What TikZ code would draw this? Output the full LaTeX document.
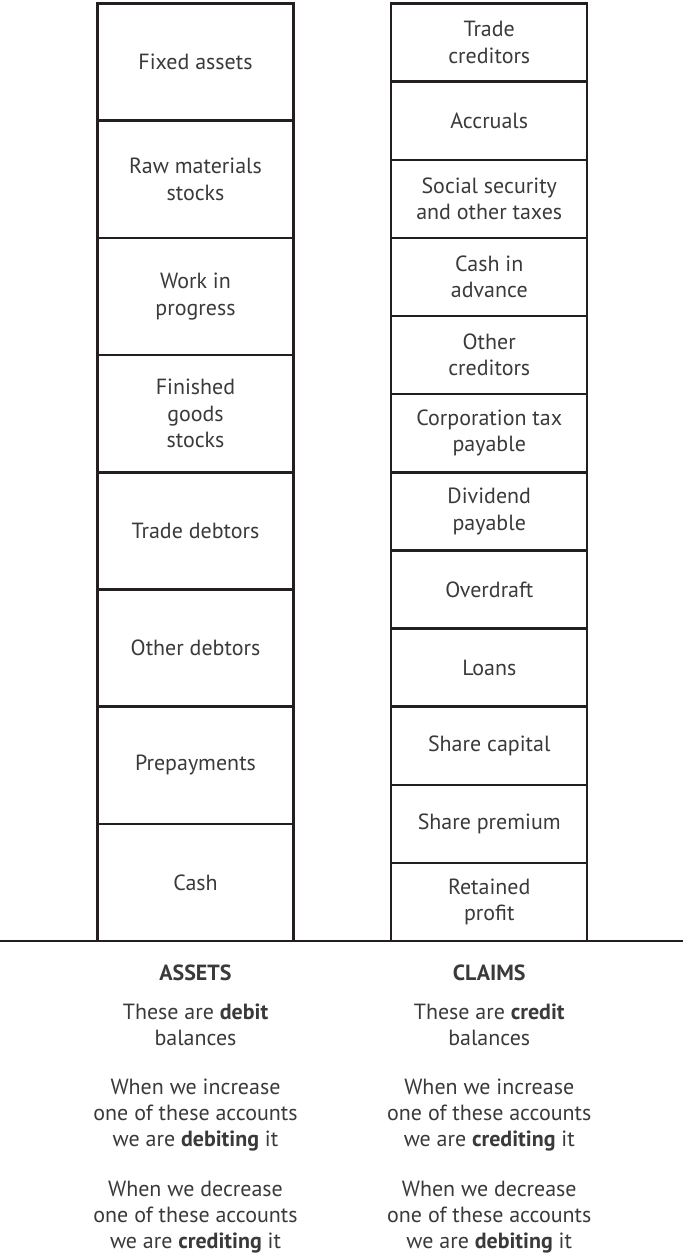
\documentclass[tikz,border=0pt]{standalone}
\usepackage{fontspec}
\setmainfont{PT Sans}
\definecolor{ink}{HTML}{231F20}
\definecolor{txt}{HTML}{3A3A3A}
\tikzset{
    acct/.style={draw=ink, line width=1.4pt, minimum width=3.92cm, inner sep=0pt, outer sep=0pt,
        align=center, text=txt, font=\fontsize{12.5}{15}\selectfont},
    asset/.style={acct, minimum height=2.344cm},
    claim/.style={acct, minimum height=1.5625cm},
    note/.style={align=center, text=txt, font=\fontsize{12.5}{15}\selectfont}
}

\begin{document}
\begin{tikzpicture}
        \useasboundingbox (0,0) rectangle (13.66,-25.1);
        \draw[ink, line width=0.7pt] (0,-18.822) coordinate (base west) -- (13.66,-18.822) coordinate (base east);
        % assets
        \node[asset] (fixed) at (3.91,-1.242) {Fixed assets};
        \node[asset] (raw) at (3.91,-3.586) {Raw materials\\stocks};
        \node[asset] (wip) at (3.91,-5.930) {Work in\\progress};
        \node[asset] (finished) at (3.91,-8.274) {Finished\\goods\\stocks};
        \node[asset] (tdebtors) at (3.91,-10.618) {Trade debtors};
        \node[asset] (odebtors) at (3.91,-12.962) {Other debtors};
        \node[asset] (prepay) at (3.91,-15.306) {Prepayments};
        \node[asset] (cash) at (3.91,-17.650) {Cash};
        % claims
        \node[claim] (tcred) at (9.785,-0.851) {Trade\\creditors};
        \node[claim] (accr) at (9.785,-2.414) {Accruals};
        \node[claim] (social) at (9.785,-3.976) {Social security\\and other taxes};
        \node[claim] (advance) at (9.785,-5.539) {Cash in\\advance};
        \node[claim] (ocred) at (9.785,-7.101) {Other\\creditors};
        \node[claim] (corptax) at (9.785,-8.664) {Corporation tax\\payable};
        \node[claim] (divid) at (9.785,-10.226) {Dividend\\payable};
        \node[claim] (overdraft) at (9.785,-11.789) {Overdraft};
        \node[claim] (loans) at (9.785,-13.351) {Loans};
        \node[claim] (share) at (9.785,-14.914) {Share capital};
        \node[claim] (premium) at (9.785,-16.476) {Share premium};
        \node[claim] (retained) at (9.785,-18.039) {Retained\\profit};
        % captions
        \node[note, font=\fontsize{12.5}{15}\selectfont\bfseries] (assets) at (3.91,-19.46) {ASSETS};
        \node[note] (adebit) at (3.91,-20.5) {These are \textbf{debit}\\balances};
        \node[note] (ainc) at (3.91,-22.3) {When we increase\\one of these accounts\\we are \textbf{debiting} it};
        \node[note] (adec) at (3.91,-24.34) {When we decrease\\one of these accounts\\we are \textbf{crediting} it};
        \node[note, font=\fontsize{12.5}{15}\selectfont\bfseries] (claims) at (9.785,-19.46) {CLAIMS};
        \node[note] (ccredit) at (9.785,-20.5) {These are \textbf{credit}\\balances};
        \node[note] (cinc) at (9.785,-22.3) {When we increase\\one of these accounts\\we are \textbf{crediting} it};
        \node[note] (cdec) at (9.785,-24.34) {When we decrease\\one of these accounts\\we are \textbf{debiting} it};
    \end{tikzpicture}
\end{document}
